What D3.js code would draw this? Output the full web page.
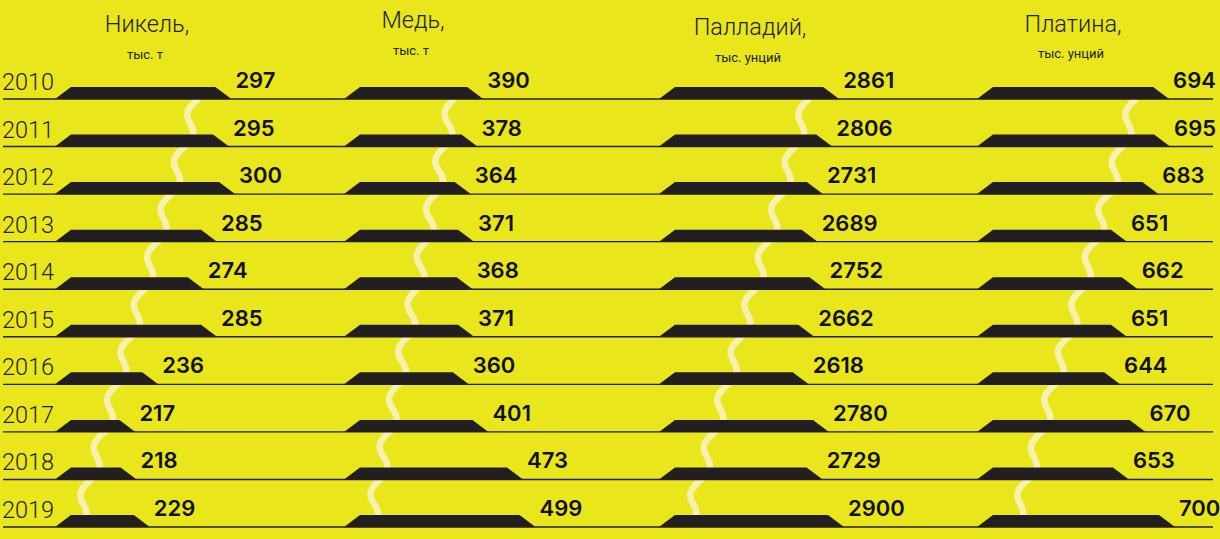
<!DOCTYPE html>
<html>
<head>
<meta charset="utf-8">
<script src="https://cdn.jsdelivr.net/npm/d3@7"></script>
<style>
  html, body { margin: 0; padding: 0; background: #e9e61b; }
  svg { display: block; }
</style>
</head>
<body>
<svg id="chart" width="1220" height="539"></svg>
<script>
// Production by year, four metals
const years     = ["2010", "2011", "2012", "2013", "2014", "2015", "2016", "2017", "2018", "2019"];
const nickel    = [297, 295, 300, 285, 274, 285, 236, 217, 218, 229];
const copper    = [390, 378, 364, 371, 368, 371, 360, 401, 473, 499];
const palladium = [2861, 2806, 2731, 2689, 2752, 2662, 2618, 2780, 2729, 2900];
const platinum  = [694, 695, 683, 651, 662, 651, 644, 670, 653, 700];

const titles    = ["Никель,", "Медь,", "Палладий,", "Платина,"];
const units     = ["тыс. т", "тыс. т", "тыс. унций", "тыс. унций"];

const W = 1220, H = 539;
const svg = d3.select("#chart");

const BG = "#e9e61b", INK = "#231f20", SMOKE = "#f6f2ae";

// row positions
const y = d3.scaleLinear().domain([0, years.length - 1]).range([99, 527]);
const barH = 12, bevel = 16;

// layout of each panel: horizontal scale, heading placement, smoke drift
const panels = [
  { values: nickel,    domain: [150, 300],   range: [55, 235],   titleX: 147, titleY: 32, unitY: 59, smoke: [142, 25] },
  { values: copper,    domain: [100, 500],   range: [344, 536],  titleX: 413, titleY: 28, unitY: 55, smoke: [109, 28] },
  { values: palladium, domain: [1420, 2900], range: [659, 844],  titleX: 750, titleY: 35, unitY: 62, smoke: [149, 31] },
  { values: platinum,  domain: [498, 700],   range: [977, 1175], titleX: 1073, titleY: 32, unitY: 58, smoke: [158, 40] }
];

svg.append("rect").attr("width", W).attr("height", H).attr("fill", BG);

// wavy steam rising from the bars, drawn first so bars cover it
panels.forEach(p => {
  const x0 = p.range[0];
  const yTop = y(0) + 1, yBot = y(years.length - 1) - barH + 1;
  const period = y(1) - y(0);
  const pts = d3.range(0, 1.0001, 0.004).map(t => {
    const yy = yTop + t * (yBot - yTop);
    const xx = x0 + p.smoke[0] + t * (p.smoke[1] - p.smoke[0])
      - 6 * Math.sin(2 * Math.PI * (yy - yTop) / period);
    return [xx, yy];
  });
  svg.append("path")
    .attr("d", d3.line().curve(d3.curveBasis)(pts))
    .attr("fill", "none")
    .attr("stroke", SMOKE)
    .attr("stroke-width", 6.5)
    .attr("stroke-linecap", "round");
});

// baselines across the full width
svg.append("g").selectAll("line")
  .data(years)
  .join("line")
  .attr("x1", 3).attr("x2", 1213)
  .attr("y1", (d, i) => y(i)).attr("y2", (d, i) => y(i))
  .attr("stroke", INK).attr("stroke-width", 1.4);

// year labels
svg.append("g").selectAll("text")
  .data(years)
  .join("text")
  .attr("x", 2).attr("y", (d, i) => y(i) - 9)
  .attr("font-family", "Roboto, sans-serif")
  .attr("font-weight", 300)
  .attr("font-size", 23.5)
  .attr("fill", INK)
  .text(d => d);

panels.forEach((p, k) => {
  const x = d3.scaleLinear().domain(p.domain).range(p.range);
  const g = svg.append("g");

  g.append("text")
    .attr("x", p.titleX).attr("y", p.titleY)
    .attr("text-anchor", "middle")
    .attr("font-family", "Roboto, sans-serif")
    .attr("font-weight", 300)
    .attr("font-size", 23.5)
    .attr("fill", INK)
    .text(titles[k]);

  g.append("text")
    .attr("x", p.titleX - 2).attr("y", p.unitY)
    .attr("text-anchor", "middle")
    .attr("font-family", "Roboto, sans-serif")
    .attr("font-size", 13)
    .attr("fill", INK)
    .text(units[k]);

  // ingot-shaped bars
  g.selectAll("path.bar")
    .data(p.values)
    .join("path")
    .attr("class", "bar")
    .attr("fill", INK)
    .attr("d", (v, i) => {
      const x0 = x(p.domain[0]), x1 = x(v), yb = y(i), yt = y(i) - barH;
      return `M${x0},${yb}L${x0 + bevel},${yt}L${x1 - bevel},${yt}L${x1},${yb}Z`;
    });

  g.selectAll("text.val")
    .data(p.values)
    .join("text")
    .attr("class", "val")
    .attr("x", v => x(v) + 4)
    .attr("y", (v, i) => y(i) - 11)
    .attr("font-family", "Inter, sans-serif")
    .attr("font-weight", 600)
    .attr("font-size", 22)
    .attr("fill", "#111")
    .text(v => v);
});
</script>
</body>
</html>
